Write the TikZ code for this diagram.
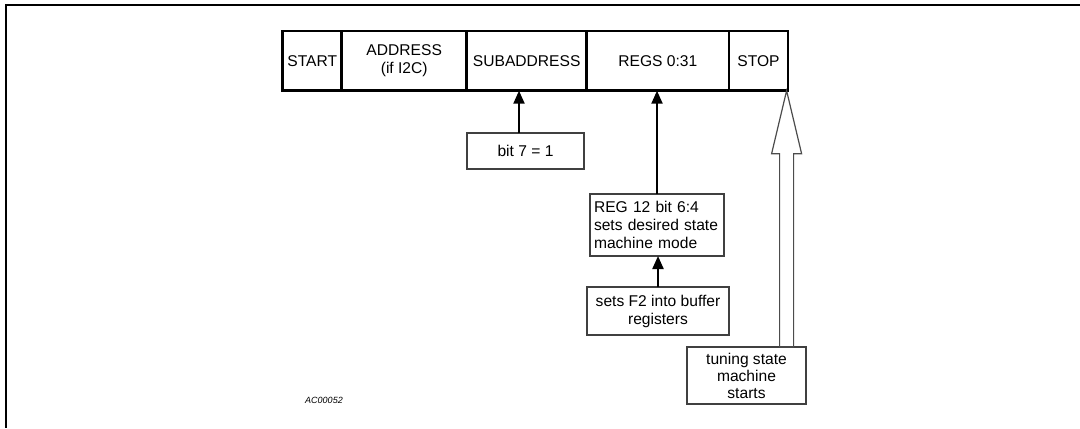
\documentclass[tikz,border=0pt]{standalone}
\usepackage{fontspec}
\setmainfont{Liberation Sans}
\usetikzlibrary{positioning,arrows.meta}

\begin{document}
\begin{tikzpicture}[x=0.5pt,y=-0.5pt]
            \tikzset{
                cell/.style={draw,line width=1.3pt,inner sep=0pt,outer sep=0pt,minimum height=29.85pt,align=center,font=\fontsize{7.8}{9}\selectfont},
                note/.style={draw=black!75,line width=0.6pt,inner sep=2pt,outer sep=0pt,align=center,font=\fontsize{7.8}{9}\selectfont},
                feed/.style={line width=1.1pt,-{Triangle[length=6.5pt,width=5.5pt]}},
                hollow/.style={draw=black!70,line width=0.6pt,line join=miter},}
            \useasboundingbox (0,0) rectangle (1080,428);
            \draw [line width=1pt] (1080,5) -- (5.5,5) -- (5.5,428);
            \node [cell,minimum width=29.5pt] (start) at (312.2,60.85) {START};
            \node [cell,minimum width=62.5pt,right=0pt of start] (address) {ADDRESS\\(if I2C)};
            \node [cell,minimum width=60pt,right=0pt of address] (subaddr) {SUBADDRESS};
            \node [cell,minimum width=71.15pt,right=0pt of subaddr] (regs) {REGS 0:31};
            \node [cell,minimum width=29.5pt,right=0pt of regs] (stop) {STOP};
            \node [note,minimum width=58.5pt,minimum height=18pt] (bit7) at (525.5,151) {bit 7 = 1};
            \node [note,minimum width=67pt,minimum height=31pt,text width=63pt,align=left] (reg12) at (657,225) {REG 12 bit 6:4\\sets desired state\\machine mode};
            \node [note,minimum width=71pt,minimum height=24pt] (bufreg) at (658,311) {sets F2 into buffer\\registers};
            \node [note,minimum width=59.5pt,minimum height=28.5pt,font=\fontsize{7.8}{8.5}\selectfont] (tuning) at (746.5,375.5) {tuning state\\machine\\starts};
            \node [font=\fontsize{4.5}{5}\selectfont\itshape] (code) at (324,400) {AC00052};
            \draw [feed] ([xshift=-3.25pt]bit7.north) -- ([xshift=-3.25pt]bit7.north |- subaddr.south);
            \draw [feed] (reg12.north) -- (reg12.north |- regs.south);
            \draw [feed] (bufreg.north) -- (bufreg.north |- reg12.south);
            % wide open arrow up to STOP
            \coordinate (tip) at ([xshift=-0.7pt]stop.south east);
            \draw [hollow] (tip) -- ([shift={(-7.5pt,-31.5pt)}]tip) -- ([shift={(-3.5pt,-31.5pt)}]tip)
                -- ([xshift=-3.5pt]tip |- tuning.north) -- ([xshift=3.5pt]tip |- tuning.north)
                -- ([shift={(3.5pt,-31.5pt)}]tip) -- ([shift={(7.5pt,-31.5pt)}]tip) -- cycle;
        \end{tikzpicture}
\end{document}
